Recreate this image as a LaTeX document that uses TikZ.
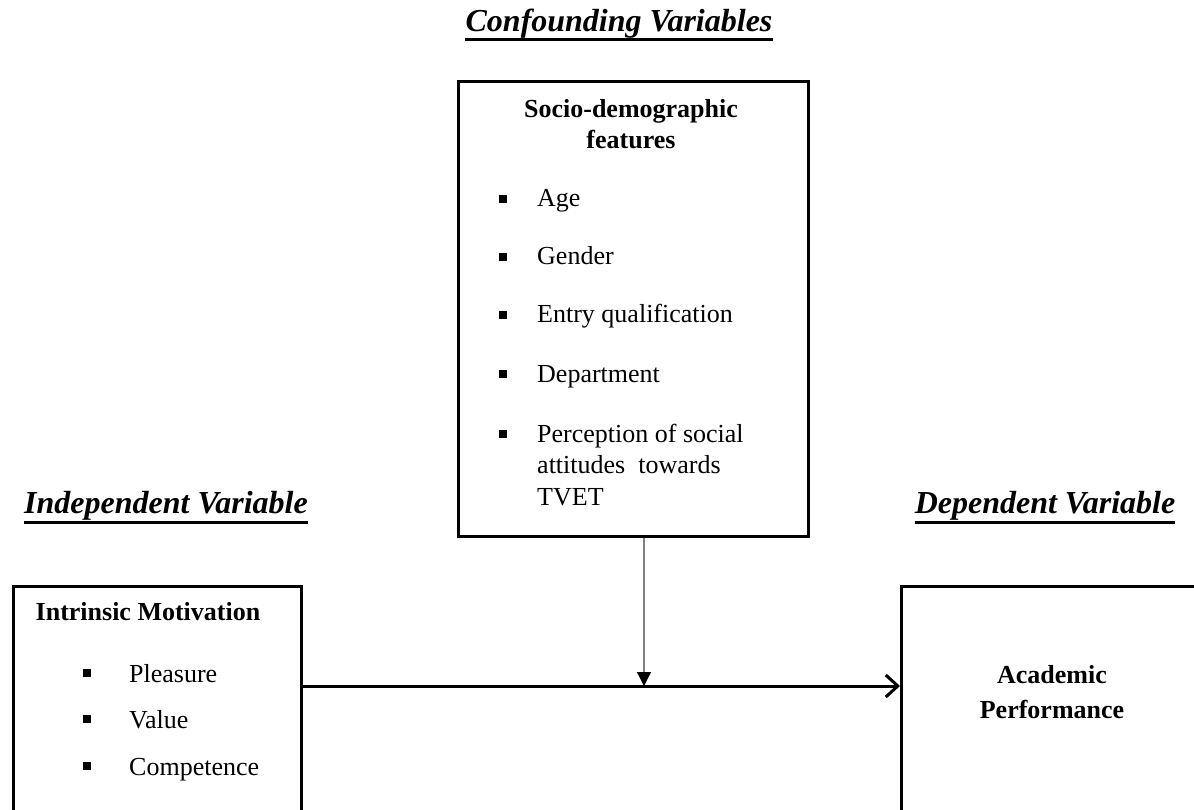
\documentclass[tikz,border=0pt]{standalone}
\usepackage{fontspec}
\setmainfont{Liberation Serif}
\usetikzlibrary{arrows.meta}
\begin{document}
\begin{tikzpicture}[x=1pt,y=-1pt,
  box/.style={draw, line width=3pt, inner sep=0pt},
  heading/.style={font=\fontsize{32}{36}\selectfont\bfseries\itshape, anchor=base, inner sep=0pt},
  ul/.style={line width=3pt},
  body/.style={font=\fontsize{26}{30}\selectfont, anchor=base west, inner sep=0pt},
  bhead/.style={font=\fontsize{26}{30}\selectfont\bfseries, anchor=base, inner sep=0pt},
  sq/.style={fill, minimum size=7.5pt, inner sep=0pt},
  main/.style={line width=3pt, -{Straight Barb[length=12pt,width=22pt,line width=3pt]}},
  mod/.style={draw=gray, line width=1.3pt, -{Triangle[length=14pt,width=14pt,color=black,fill=black]}}]
\useasboundingbox (0,0) rectangle (1194,810);
\fill[white] (0,0) rectangle (1194,810);
\begin{scope}
\clip (0,0) rectangle (1194,810);
% headings
\node[heading] (hc) at (619,32) {Confounding Variables};
\draw[ul] ([yshift=-8pt]hc.base west) -- ([yshift=-8pt]hc.base east);
\node[heading] (hi) at (166,513) {Independent Variable};
\draw[ul] ([yshift=-9pt]hi.base west) -- ([yshift=-9pt]hi.base east);
\node[heading] (hd) at (1045,513) {Dependent Variable};
\draw[ul] ([yshift=-9pt]hd.base west) -- ([yshift=-9pt]hd.base east);
% boxes
\node[box, anchor=north west, minimum width=350pt, minimum height=455pt] (socio) at (457,80) {};
\node[box, anchor=north west, minimum width=288pt, minimum height=260pt] (iv) at (12,585) {};
\node[box, anchor=north west, minimum width=310pt, minimum height=260pt] (dv) at (900,585) {};
% socio content
\node[bhead] (s1) at (631,118) {Socio-demographic};
\node[bhead] (s2) at (631,149) {features};
\node[sq] (b1) at (503,199) {};
\node[body] (t1) at (537,207) {Age};
\node[sq] (b2) at (503,257) {};
\node[body] (t2) at (537,265) {Gender};
\node[sq] (b3) at (503,315) {};
\node[body] (t3) at (537,323) {Entry qualification};
\node[sq] (b4) at (503,374) {};
\node[body] (t4) at (537,382) {Department};
\node[sq] (b5) at (503,434) {};
\node[body] (t5) at (537,442) {Perception of social};
\node[body] (t6) at (537,473) {attitudes\ \ towards};
\node[body] (t7) at (537,505) {TVET};
% iv content
\node[bhead] (i0) at (148,620) {Intrinsic Motivation};
\node[sq] (c1) at (87,673) {};
\node[body] (p1) at (129,682) {Pleasure};
\node[sq] (c2) at (87,719) {};
\node[body] (p2) at (129,728) {Value};
\node[sq] (c3) at (87,766) {};
\node[body] (p3) at (129,775) {Competence};
% dv content
\node[bhead] (d1) at (1052,683) {Academic};
\node[bhead] (d2) at (1052,718) {Performance};
% connectors
\coordinate (m) at (644,686);
\draw[main] (iv.east |- m) -- (dv.west |- m);
\draw[mod] (socio.south -| m) -- (m);
\end{scope}
\end{tikzpicture}
\end{document}
